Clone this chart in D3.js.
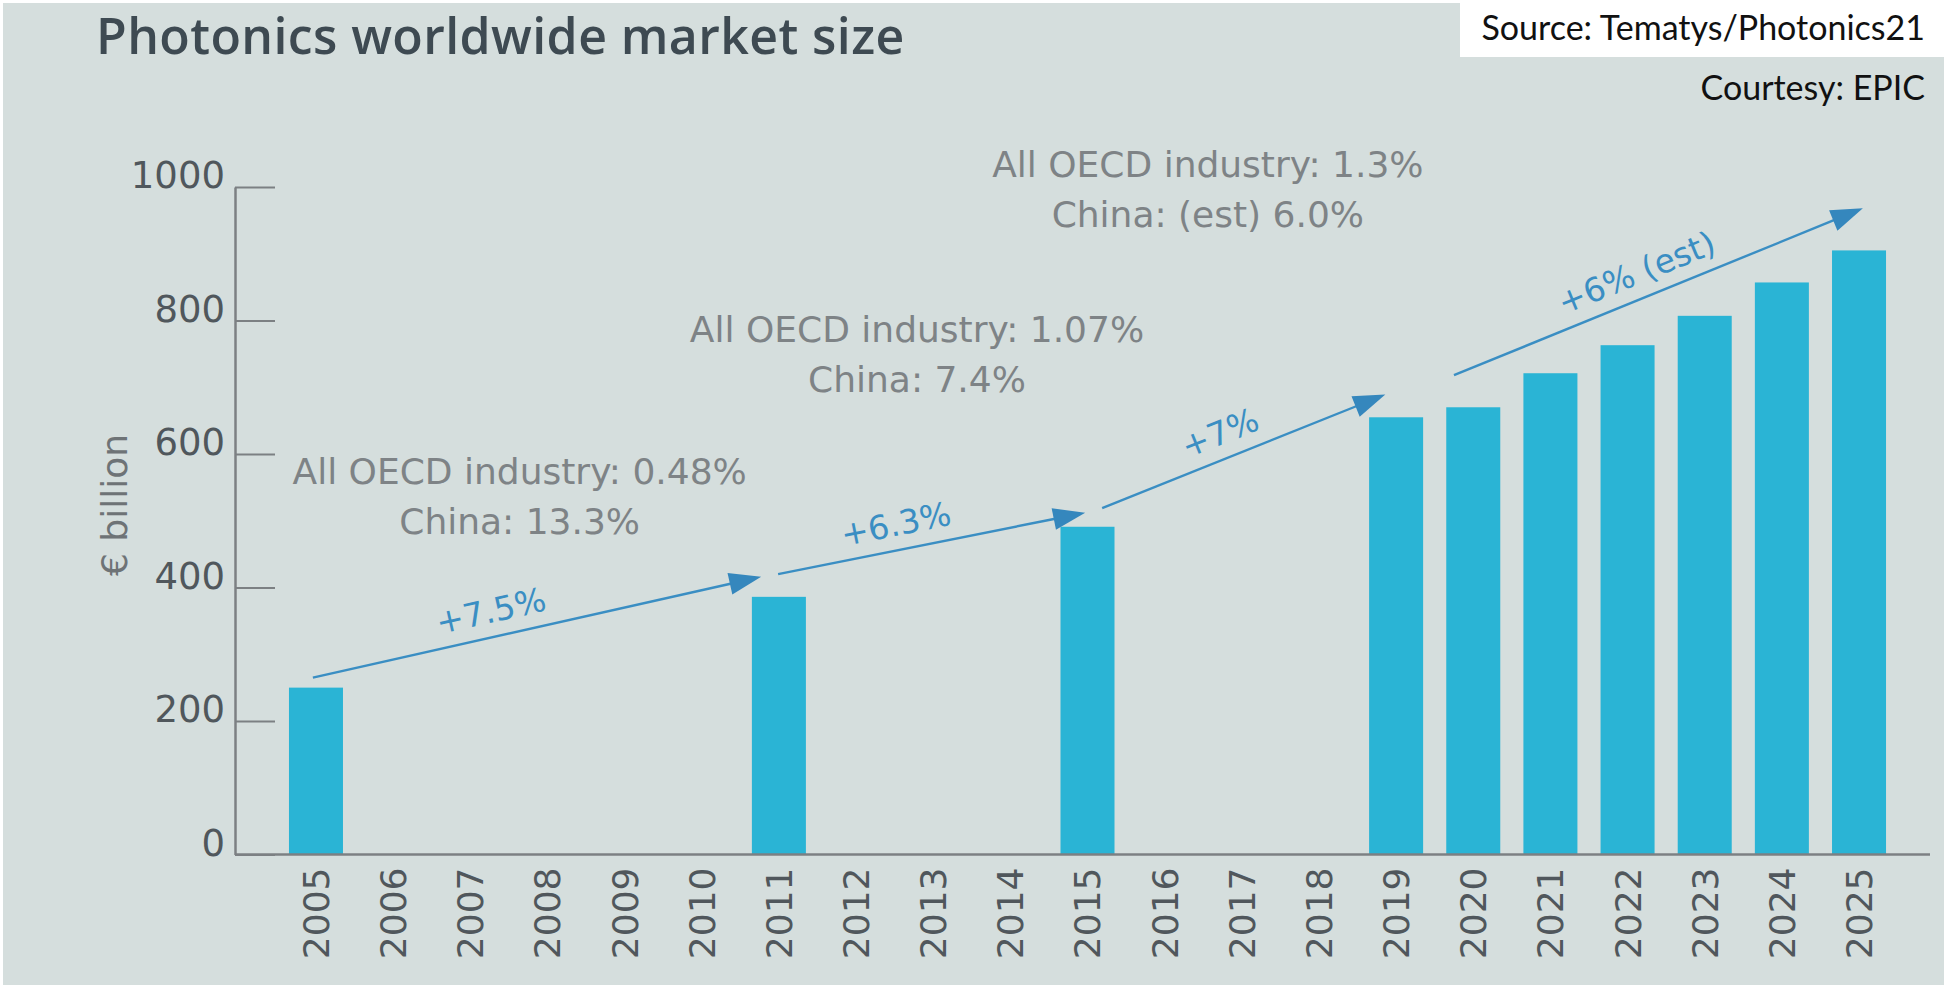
<!DOCTYPE html>
<html>
<head>
<meta charset="utf-8">
<script src="https://cdn.jsdelivr.net/npm/d3@7"></script>
<style>
  html, body { margin: 0; padding: 0; background: #ffffff; }
  svg { display: block; }
</style>
</head>
<body>
<svg id="chart" width="1944" height="985"></svg>
<script>
// Photonics worldwide market size, € billion
const years = d3.range(2005, 2026).map(String);
const barYears = ["2005", "2011", "2015", "2019", "2020", "2021", "2022", "2023", "2024", "2025"];
const barValues = [250, 386, 491, 655, 670, 721, 763, 807, 857, 905];
const yTicks = [0, 200, 400, 600, 800, 1000];

// Growth arrows between bars (fractional year positions, values in € billion)
const arrowFrom = [[2004.96, 265], [2010.99, 420], [2015.19, 519], [2019.75, 718]];
const arrowTo = [[2010.77, 416], [2014.97, 512], [2018.86, 689], [2025.05, 968]];
const arrowLabels = ["+7.5%", "+6.3%", "+7%", "+6% (est)"];
const arrowLabelAt = [0.41, 0.40, 0.45, 0.47];

// Industry growth notes (anchored at year / value of first line baseline)
const noteLines = [
  ["All OECD industry: 0.48%", "China: 13.3%"],
  ["All OECD industry: 1.07%", "China: 7.4%"],
  ["All OECD industry: 1.3%", "China: (est) 6.0%"]
];
const noteAnchors = [[2007.64, 555], [2012.79, 768], [2016.56, 1015]];

const svg = d3.select("#chart");
const W = 1944, H = 985;

// background with thin white edge at top and left
svg.append("rect").attr("width", W).attr("height", H).attr("fill", "#ffffff");
svg.append("rect").attr("x", 3).attr("y", 3).attr("width", W - 3).attr("height", H - 3).attr("fill", "#d5dedd");

const x = d3.scaleBand().domain(years).range([277.4, 1897.6]).paddingInner(0.3).paddingOuter(0.15);
const y = d3.scaleLinear().domain([0, 1000]).range([854.5, 187]);
const xc = d3.scaleLinear().domain([2005, 2025])
  .range([x("2005") + x.bandwidth() / 2, x("2025") + x.bandwidth() / 2]);

const axisColor = "#7c8083";
const tickText = "#50575c";

// title
svg.append("text")
  .attr("x", 96).attr("y", 54)
  .attr("font-family", "'Open Sans', Lato, sans-serif")
  .attr("font-weight", 600)
  .attr("font-size", 50)
  .attr("letter-spacing", 0.4)
  .attr("fill", "#3e4a52")
  .text("Photonics worldwide market size");

// source box
svg.append("rect").attr("x", 1460).attr("y", 0).attr("width", W - 1460).attr("height", 57).attr("fill", "#ffffff");
svg.append("text")
  .attr("x", 1925).attr("y", 40)
  .attr("text-anchor", "end")
  .attr("font-family", "Lato, 'Noto Sans', sans-serif")
  .attr("font-size", 34)
  .attr("fill", "#111111")
  .text("Source: Tematys/Photonics21");
svg.append("text")
  .attr("x", 1925).attr("y", 100)
  .attr("text-anchor", "end")
  .attr("font-family", "Lato, 'Noto Sans', sans-serif")
  .attr("font-size", 34)
  .attr("fill", "#111111")
  .text("Courtesy: EPIC");

// bars
svg.append("g").selectAll("rect")
  .data(barYears.map((yr, i) => ({ yr, v: barValues[i] })))
  .join("rect")
  .attr("x", d => x(d.yr))
  .attr("y", d => y(d.v))
  .attr("width", x.bandwidth())
  .attr("height", d => y(0) - y(d.v))
  .attr("fill", "#2ab4d5");

// y axis: ticks pointing inward, labels on the left
const yAxisX = 235;
const gy = svg.append("g")
  .attr("transform", `translate(${yAxisX},0)`)
  .call(d3.axisRight(y).tickValues(yTicks).tickFormat(d3.format("d")).tickSize(40).tickSizeOuter(0));
gy.select(".domain").attr("stroke", axisColor).attr("stroke-width", 2.5);
gy.selectAll(".tick line").attr("stroke", axisColor).attr("stroke-width", 1.8);
gy.selectAll(".tick text")
  .attr("x", -10).attr("dy", "0.02em")
  .attr("text-anchor", "end")
  .attr("font-family", "'DejaVu Sans', sans-serif")
  .attr("font-size", 37)
  .attr("fill", tickText);

// x axis baseline and rotated year labels
svg.append("line")
  .attr("x1", yAxisX).attr("x2", 1930)
  .attr("y1", y(0)).attr("y2", y(0))
  .attr("stroke", axisColor).attr("stroke-width", 2.5);
const gx = svg.append("g")
  .attr("transform", `translate(0,${y(0)})`)
  .call(d3.axisBottom(x).tickSize(0));
gx.select(".domain").remove();
gx.selectAll(".tick text")
  .attr("transform", "rotate(-90)")
  .attr("x", -13).attr("y", 0).attr("dy", "0.36em")
  .attr("text-anchor", "end")
  .attr("font-family", "'DejaVu Sans', sans-serif")
  .attr("font-size", 36)
  .attr("fill", tickText);

// y axis title
svg.append("text")
  .attr("transform", `translate(114,505) rotate(-90)`)
  .attr("text-anchor", "middle")
  .attr("dominant-baseline", "central")
  .attr("font-family", "'DejaVu Sans', sans-serif")
  .attr("font-size", 36)
  .attr("fill", "#6e7376")
  .text("€ billion");

// growth arrows
const arrowColor = "#3a8ec3";
const headColor = "#3587bd";
const headLen = 32, headHalf = 11, labelOffset = 26;
const ga = svg.append("g");
arrowFrom.forEach((f, i) => {
  const x0 = xc(f[0]), y0 = y(f[1]);
  const x1 = xc(arrowTo[i][0]), y1 = y(arrowTo[i][1]);
  const ang = Math.atan2(y1 - y0, x1 - x0);
  const deg = ang * 180 / Math.PI;
  const len = Math.hypot(x1 - x0, y1 - y0);
  const g = ga.append("g").attr("transform", `translate(${x0},${y0}) rotate(${deg})`);
  g.append("line")
    .attr("x1", 0).attr("y1", 0).attr("x2", len - headLen + 4).attr("y2", 0)
    .attr("stroke", arrowColor).attr("stroke-width", 2.4);
  g.append("path")
    .attr("d", `M${len},0 L${len - headLen},${-headHalf} L${len - headLen},${headHalf} Z`)
    .attr("fill", headColor);
  g.append("text")
    .attr("x", len * arrowLabelAt[i]).attr("y", -labelOffset)
    .attr("text-anchor", "middle")
    .attr("dominant-baseline", "central")
    .attr("font-family", "'DejaVu Sans', sans-serif")
    .attr("font-size", 33)
    .attr("fill", arrowColor)
    .text(arrowLabels[i]);
});

// industry notes
const gn = svg.append("g");
noteLines.forEach((lines, i) => {
  const t = gn.append("text")
    .attr("text-anchor", "middle")
    .attr("font-family", "'DejaVu Sans', sans-serif")
    .attr("font-size", 36)
    .attr("fill", "#7e8386");
  lines.forEach((s, j) => {
    t.append("tspan")
      .attr("x", xc(noteAnchors[i][0]))
      .attr("y", y(noteAnchors[i][1]) + j * 50)
      .text(s);
  });
});
</script>
</body>
</html>
